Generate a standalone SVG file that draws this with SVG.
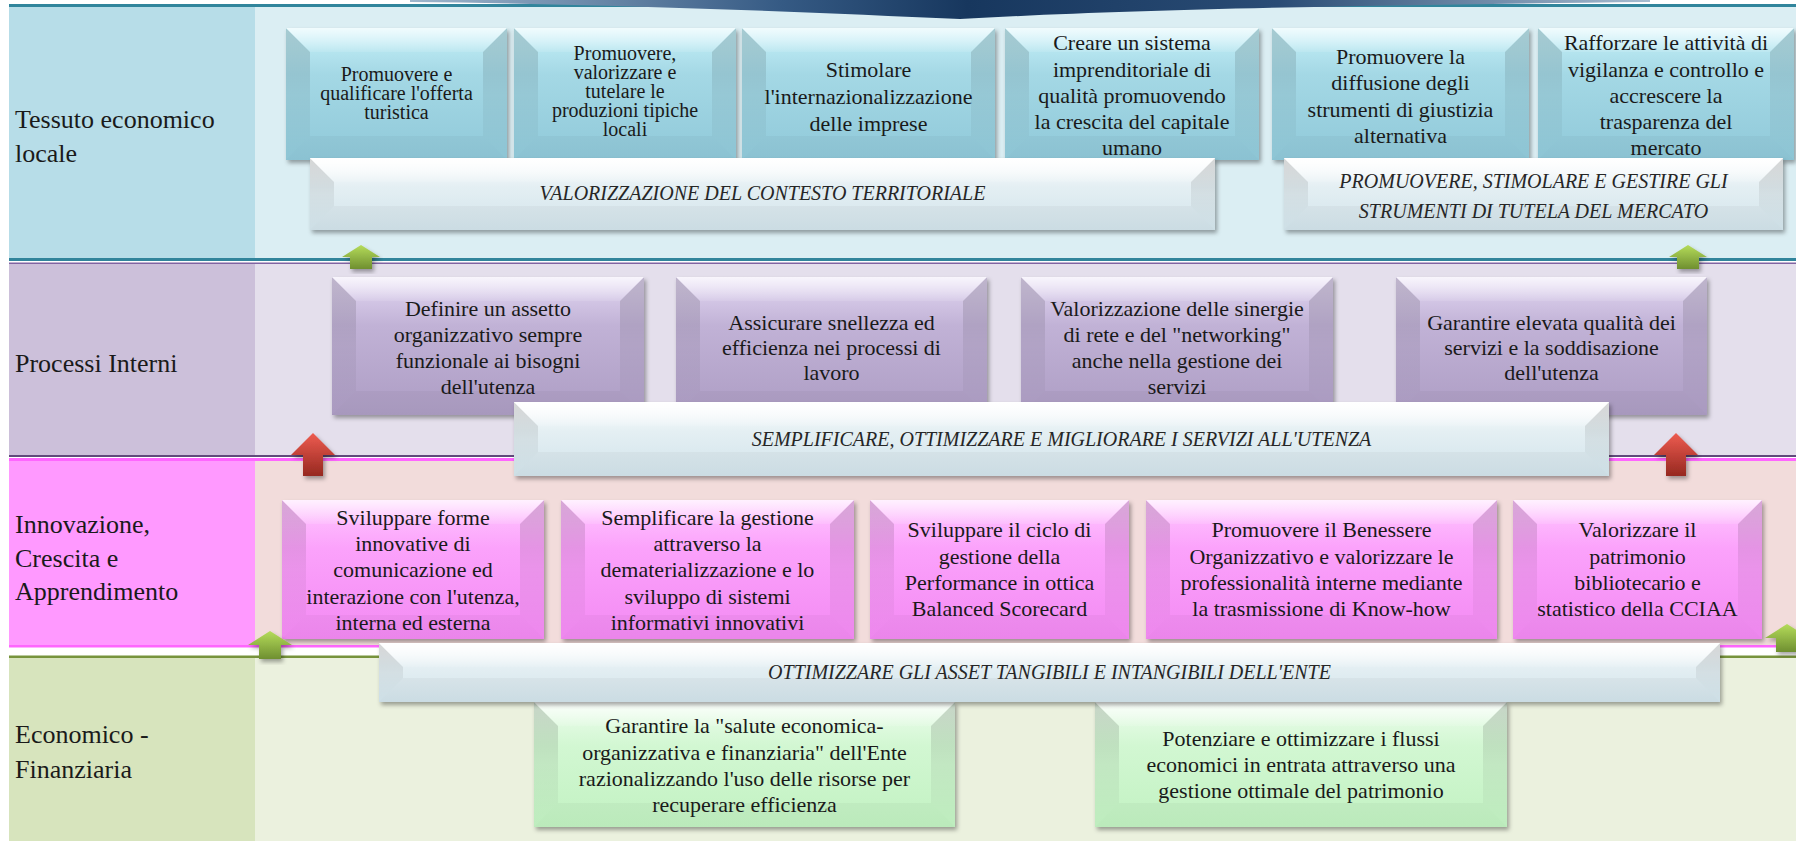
<svg xmlns="http://www.w3.org/2000/svg" width="1796" height="841" viewBox="0 0 1796 841">
<defs>
<linearGradient id="gTeal" x1="0" y1="0" x2="0" y2="1"><stop offset="0" stop-color="#c6f1f9"/><stop offset="0.35" stop-color="#a4d8e5"/><stop offset="1" stop-color="#90c9d9"/></linearGradient>
<linearGradient id="gBan" x1="0" y1="0" x2="0" y2="1"><stop offset="0" stop-color="#ffffff"/><stop offset="0.4" stop-color="#e4eff3"/><stop offset="1" stop-color="#d2e4eb"/></linearGradient>
<linearGradient id="gPur" x1="0" y1="0" x2="0" y2="1"><stop offset="0" stop-color="#e3d8f3"/><stop offset="0.35" stop-color="#c1b2d6"/><stop offset="1" stop-color="#ad9dc4"/></linearGradient>
<linearGradient id="gPink" x1="0" y1="0" x2="0" y2="1"><stop offset="0" stop-color="#ffc8ff"/><stop offset="0.35" stop-color="#fba2fb"/><stop offset="1" stop-color="#f38af3"/></linearGradient>
<linearGradient id="gGreen" x1="0" y1="0" x2="0" y2="1"><stop offset="0" stop-color="#eefdee"/><stop offset="0.35" stop-color="#d2f7d2"/><stop offset="1" stop-color="#c2f2c2"/></linearGradient>
<linearGradient id="gSide" x1="0" y1="0" x2="0" y2="1"><stop offset="0" stop-color="#000" stop-opacity="0.16"/><stop offset="0.5" stop-color="#000" stop-opacity="0.06"/><stop offset="1" stop-color="#000" stop-opacity="0.02"/></linearGradient>
<linearGradient id="gTop" x1="0" y1="0" x2="0" y2="1"><stop offset="0" stop-color="#fff" stop-opacity="0.75"/><stop offset="1" stop-color="#fff" stop-opacity="0.1"/></linearGradient>
<linearGradient id="gArrG" x1="0" y1="0" x2="0" y2="1"><stop offset="0" stop-color="#b5dc5a"/><stop offset="1" stop-color="#6f8f30"/></linearGradient>
<linearGradient id="gArrR" x1="0" y1="0" x2="0" y2="1"><stop offset="0" stop-color="#ee5c50"/><stop offset="1" stop-color="#962820"/></linearGradient>
<linearGradient id="gRib" x1="0" y1="0" x2="1" y2="0"><stop offset="0" stop-color="#9fb6cc"/><stop offset="0.3" stop-color="#355a84"/><stop offset="0.45" stop-color="#17375e"/><stop offset="0.7" stop-color="#2a4c75"/><stop offset="1" stop-color="#a7bcd0"/></linearGradient>
<filter id="sh" x="-5%" y="-10%" width="112%" height="130%"><feDropShadow dx="2" dy="3" stdDeviation="2.2" flood-color="#000" flood-opacity="0.35"/></filter>
</defs>
<style>
.lbl{font-family:"Liberation Serif","DejaVu Serif",serif;font-size:26px;fill:#1a1a1a}
.tx{font-family:"Liberation Serif","DejaVu Serif",serif;font-size:22px;fill:#1a1a1a;text-anchor:middle}
.tx2{font-family:"Liberation Serif","DejaVu Serif",serif;font-size:20px;fill:#1a1a1a;text-anchor:middle}
.bt{font-family:"Liberation Serif","DejaVu Serif",serif;font-size:20px;font-style:italic;fill:#262626;text-anchor:middle}
.teal{fill:url(#gTeal);filter:url(#sh)}
.ban{fill:url(#gBan);filter:url(#sh)}
.pur{fill:url(#gPur);filter:url(#sh)}
.pink{fill:url(#gPink);filter:url(#sh)}
.grn{fill:url(#gGreen);filter:url(#sh)}
.sd{fill:url(#gSide)}
.tp{fill:url(#gTop)}
.bm{fill:#000;fill-opacity:0.03}
.ag{fill:url(#gArrG);filter:url(#sh)}
.ar{fill:url(#gArrR);filter:url(#sh)}
</style>

<!-- backgrounds -->
<g id="rows">
<rect x="0" y="0" width="1796" height="841" fill="#ffffff"/>
<rect x="9" y="7" width="246" height="251" fill="#b7dde8"/>
<rect x="255" y="7" width="1541" height="251" fill="#dbeef3"/>
<rect x="9" y="264" width="246" height="191" fill="#ccc0da"/>
<rect x="255" y="264" width="1541" height="191" fill="#e4dfec"/>
<rect x="9" y="461" width="246" height="184" fill="#ff99ff"/>
<rect x="255" y="461" width="1541" height="184" fill="#f2dcdb"/>
<rect x="9" y="658" width="246" height="183" fill="#d7e4bd"/>
<rect x="255" y="658" width="1541" height="183" fill="#ebf1de"/>
<rect x="9" y="4" width="1787" height="3" fill="#31859c"/>
<rect x="9" y="258" width="1787" height="3" fill="#31849b"/>
<rect x="9" y="262.5" width="1787" height="1.5" fill="#8064a2"/>
<rect x="9" y="455" width="1787" height="2" fill="#604a7b"/>
<rect x="9" y="458" width="1787" height="3" fill="#ff66ff"/>
<rect x="9" y="645" width="1787" height="2.5" fill="#ff66ff"/>
<rect x="9" y="655.5" width="1787" height="2.5" fill="#77933c"/>
<path d="M410 0 L1650 0 L1650 2 C1350 5 1120 10 960 19 C800 12 620 4 410 2 Z" fill="url(#gRib)"/>
</g>

<g id="row-labels">
<text class="lbl" x="15" y="128">Tessuto economico</text>
<text class="lbl" x="15" y="162">locale</text>
<text class="lbl" x="15" y="372">Processi Interni</text>
<text class="lbl" x="15" y="533">Innovazione,</text>
<text class="lbl" x="15" y="567">Crescita e</text>
<text class="lbl" x="15" y="600">Apprendimento</text>
<text class="lbl" x="15" y="743">Economico -</text>
<text class="lbl" x="15" y="778">Finanziaria</text>
</g>

<!-- Row 1 boxes -->
<g id="t1"><rect class="teal" x="286" y="28" width="221" height="132"/>
<polygon class="sd" points="286,28 310,52 310,136 286,160"/><polygon class="sd" points="507,28 483,52 483,136 507,160"/>
<polygon class="tp" points="286,28 507,28 483,52 310,52"/><polygon class="bm" points="286,160 310,136 483,136 507,160"/>
<text class="tx2" x="396.5"><tspan x="396.5" y="81">Promuovere e</tspan><tspan x="396.5" y="100">qualificare l'offerta</tspan><tspan x="396.5" y="119">turistica</tspan></text></g>

<g id="t2"><rect class="teal" x="514" y="28" width="222" height="132"/>
<polygon class="sd" points="514,28 538,52 538,136 514,160"/><polygon class="sd" points="736,28 712,52 712,136 736,160"/>
<polygon class="tp" points="514,28 736,28 712,52 538,52"/><polygon class="bm" points="514,160 538,136 712,136 736,160"/>
<text class="tx2" x="625"><tspan x="625" y="60">Promuovere,</tspan><tspan x="625" y="79">valorizzare e</tspan><tspan x="625" y="98">tutelare le</tspan><tspan x="625" y="117">produzioni tipiche</tspan><tspan x="625" y="136">locali</tspan></text></g>

<g id="t3"><rect class="teal" x="742" y="28" width="253" height="132"/>
<polygon class="sd" points="742,28 766,52 766,136 742,160"/><polygon class="sd" points="995,28 971,52 971,136 995,160"/>
<polygon class="tp" points="742,28 995,28 971,52 766,52"/><polygon class="bm" points="742,160 766,136 971,136 995,160"/>
<text class="tx" x="868.5"><tspan x="868.5" y="77">Stimolare</tspan><tspan x="868.5" y="104">l'internazionalizzazione</tspan><tspan x="868.5" y="131">delle imprese</tspan></text></g>

<g id="t4"><rect class="teal" x="1005" y="28" width="254" height="132"/>
<polygon class="sd" points="1005,28 1029,52 1029,136 1005,160"/><polygon class="sd" points="1259,28 1235,52 1235,136 1259,160"/>
<polygon class="tp" points="1005,28 1259,28 1235,52 1029,52"/><polygon class="bm" points="1005,160 1029,136 1235,136 1259,160"/>
<text class="tx" x="1132"><tspan x="1132" y="50">Creare un sistema</tspan><tspan x="1132" y="77">imprenditoriale di</tspan><tspan x="1132" y="103">qualità promuovendo</tspan><tspan x="1132" y="129">la crescita del capitale</tspan><tspan x="1132" y="155">umano</tspan></text></g>

<g id="t5"><rect class="teal" x="1272" y="28" width="257" height="132"/>
<polygon class="sd" points="1272,28 1296,52 1296,136 1272,160"/><polygon class="sd" points="1529,28 1505,52 1505,136 1529,160"/>
<polygon class="tp" points="1272,28 1529,28 1505,52 1296,52"/><polygon class="bm" points="1272,160 1296,136 1505,136 1529,160"/>
<text class="tx" x="1400.5"><tspan x="1400.5" y="64">Promuovere la</tspan><tspan x="1400.5" y="90">diffusione degli</tspan><tspan x="1400.5" y="117">strumenti di giustizia</tspan><tspan x="1400.5" y="143">alternativa</tspan></text></g>

<g id="t6"><rect class="teal" x="1538" y="28" width="256" height="132"/>
<polygon class="sd" points="1538,28 1562,52 1562,136 1538,160"/><polygon class="sd" points="1794,28 1770,52 1770,136 1794,160"/>
<polygon class="tp" points="1538,28 1794,28 1770,52 1562,52"/><polygon class="bm" points="1538,160 1562,136 1770,136 1794,160"/>
<text class="tx" x="1666"><tspan x="1666" y="50">Rafforzare le attività di</tspan><tspan x="1666" y="77">vigilanza  e controllo  e</tspan><tspan x="1666" y="103">accrescere la</tspan><tspan x="1666" y="129">trasparenza del</tspan><tspan x="1666" y="155">mercato</tspan></text></g>

<g id="v1"><rect class="ban" x="310" y="158" width="905" height="72"/>
<polygon class="sd" points="310,158 334,182 334,206 310,230"/><polygon class="sd" points="1215,158 1191,182 1191,206 1215,230"/>
<polygon class="tp" points="310,158 1215,158 1191,182 334,182"/><polygon class="bm" points="310,230 334,206 1191,206 1215,230"/>
<text class="bt" x="762.5" y="200">VALORIZZAZIONE  DEL  CONTESTO TERRITORIALE</text></g>

<g id="v2"><rect class="ban" x="1284" y="158" width="499" height="72"/>
<polygon class="sd" points="1284,158 1308,182 1308,206 1284,230"/><polygon class="sd" points="1783,158 1759,182 1759,206 1783,230"/>
<polygon class="tp" points="1284,158 1783,158 1759,182 1308,182"/><polygon class="bm" points="1284,230 1308,206 1759,206 1783,230"/>
<text class="bt" x="1533.5"><tspan x="1533.5" y="188">PROMUOVERE, STIMOLARE E GESTIRE GLI</tspan><tspan x="1533.5" y="218">STRUMENTI DI TUTELA DEL MERCATO</tspan></text></g>

<!-- Row 2 boxes -->
<g id="p1"><rect class="pur" x="332" y="277" width="312" height="138"/>
<polygon class="sd" points="332,277 356,301 356,391 332,415"/><polygon class="sd" points="644,277 620,301 620,391 644,415"/>
<polygon class="tp" points="332,277 644,277 620,301 356,301"/><polygon class="bm" points="332,415 356,391 620,391 644,415"/>
<text class="tx" x="488"><tspan x="488" y="316">Definire un assetto</tspan><tspan x="488" y="342">organizzativo sempre</tspan><tspan x="488" y="368">funzionale ai bisogni</tspan><tspan x="488" y="394">dell'utenza</tspan></text></g>

<g id="p2"><rect class="pur" x="676" y="277" width="311" height="138"/>
<polygon class="sd" points="676,277 700,301 700,391 676,415"/><polygon class="sd" points="987,277 963,301 963,391 987,415"/>
<polygon class="tp" points="676,277 987,277 963,301 700,301"/><polygon class="bm" points="676,415 700,391 963,391 987,415"/>
<text class="tx" x="831.5"><tspan x="831.5" y="330">Assicurare snellezza ed</tspan><tspan x="831.5" y="355">efficienza nei processi di</tspan><tspan x="831.5" y="380">lavoro</tspan></text></g>

<g id="p3"><rect class="pur" x="1021" y="277" width="312" height="138"/>
<polygon class="sd" points="1021,277 1045,301 1045,391 1021,415"/><polygon class="sd" points="1333,277 1309,301 1309,391 1333,415"/>
<polygon class="tp" points="1021,277 1333,277 1309,301 1045,301"/><polygon class="bm" points="1021,415 1045,391 1309,391 1333,415"/>
<text class="tx" x="1177"><tspan x="1177" y="316">Valorizzazione delle sinergie</tspan><tspan x="1177" y="342">di rete  e del "networking"</tspan><tspan x="1177" y="368">anche nella gestione dei</tspan><tspan x="1177" y="394">servizi</tspan></text></g>

<g id="p4"><rect class="pur" x="1396" y="277" width="311" height="138"/>
<polygon class="sd" points="1396,277 1420,301 1420,391 1396,415"/><polygon class="sd" points="1707,277 1683,301 1683,391 1707,415"/>
<polygon class="tp" points="1396,277 1707,277 1683,301 1420,301"/><polygon class="bm" points="1396,415 1420,391 1683,391 1707,415"/>
<text class="tx" x="1551.5"><tspan x="1551.5" y="330">Garantire elevata qualità dei</tspan><tspan x="1551.5" y="355">servizi e la soddisazione</tspan><tspan x="1551.5" y="380">dell'utenza</tspan></text></g>

<g id="s1"><rect class="ban" x="514" y="402" width="1095" height="74"/>
<polygon class="sd" points="514,402 538,426 538,452 514,476"/><polygon class="sd" points="1609,402 1585,426 1585,452 1609,476"/>
<polygon class="tp" points="514,402 1609,402 1585,426 538,426"/><polygon class="bm" points="514,476 538,452 1585,452 1609,476"/>
<text class="bt" x="1061.5" y="446">SEMPLIFICARE, OTTIMIZZARE E MIGLIORARE I SERVIZI ALL'UTENZA</text></g>

<!-- Row 3 boxes -->
<g id="i1"><rect class="pink" x="282" y="500" width="262" height="139"/>
<polygon class="sd" points="282,500 306,524 306,615 282,639"/><polygon class="sd" points="544,500 520,524 520,615 544,639"/>
<polygon class="tp" points="282,500 544,500 520,524 306,524"/><polygon class="bm" points="282,639 306,615 520,615 544,639"/>
<text class="tx" x="413"><tspan x="413" y="525">Sviluppare forme</tspan><tspan x="413" y="551">innovative di</tspan><tspan x="413" y="577">comunicazione ed</tspan><tspan x="413" y="604">interazione con l'utenza,</tspan><tspan x="413" y="630">interna ed esterna</tspan></text></g>

<g id="i2"><rect class="pink" x="561" y="500" width="293" height="139"/>
<polygon class="sd" points="561,500 585,524 585,615 561,639"/><polygon class="sd" points="854,500 830,524 830,615 854,639"/>
<polygon class="tp" points="561,500 854,500 830,524 585,524"/><polygon class="bm" points="561,639 585,615 830,615 854,639"/>
<text class="tx" x="707.5"><tspan x="707.5" y="525">Semplificare la gestione</tspan><tspan x="707.5" y="551">attraverso la</tspan><tspan x="707.5" y="577">dematerializzazione e lo</tspan><tspan x="707.5" y="604">sviluppo di sistemi</tspan><tspan x="707.5" y="630">informativi innovativi</tspan></text></g>

<g id="i3"><rect class="pink" x="870" y="500" width="259" height="139"/>
<polygon class="sd" points="870,500 894,524 894,615 870,639"/><polygon class="sd" points="1129,500 1105,524 1105,615 1129,639"/>
<polygon class="tp" points="870,500 1129,500 1105,524 894,524"/><polygon class="bm" points="870,639 894,615 1105,615 1129,639"/>
<text class="tx" x="999.5"><tspan x="999.5" y="537">Sviluppare il ciclo di</tspan><tspan x="999.5" y="564">gestione della</tspan><tspan x="999.5" y="590">Performance in ottica</tspan><tspan x="999.5" y="616">Balanced Scorecard</tspan></text></g>

<g id="i4"><rect class="pink" x="1146" y="500" width="351" height="139"/>
<polygon class="sd" points="1146,500 1170,524 1170,615 1146,639"/><polygon class="sd" points="1497,500 1473,524 1473,615 1497,639"/>
<polygon class="tp" points="1146,500 1497,500 1473,524 1170,524"/><polygon class="bm" points="1146,639 1170,615 1473,615 1497,639"/>
<text class="tx" x="1321.5"><tspan x="1321.5" y="537">Promuovere il Benessere</tspan><tspan x="1321.5" y="564">Organizzativo e valorizzare le</tspan><tspan x="1321.5" y="590">professionalità interne mediante</tspan><tspan x="1321.5" y="616">la trasmissione di Know-how</tspan></text></g>

<g id="i5"><rect class="pink" x="1513" y="500" width="249" height="139"/>
<polygon class="sd" points="1513,500 1537,524 1537,615 1513,639"/><polygon class="sd" points="1762,500 1738,524 1738,615 1762,639"/>
<polygon class="tp" points="1513,500 1762,500 1738,524 1537,524"/><polygon class="bm" points="1513,639 1537,615 1738,615 1762,639"/>
<text class="tx" x="1637.5"><tspan x="1637.5" y="537">Valorizzare il</tspan><tspan x="1637.5" y="564">patrimonio</tspan><tspan x="1637.5" y="590">bibliotecario e</tspan><tspan x="1637.5" y="616">statistico  della CCIAA</tspan></text></g>

<!-- Row 4 boxes -->
<g id="g1"><rect class="grn" x="534" y="702" width="421" height="125"/>
<polygon class="sd" points="534,702 558,726 558,803 534,827"/><polygon class="sd" points="955,702 931,726 931,803 955,827"/>
<polygon class="tp" points="534,702 955,702 931,726 558,726"/><polygon class="bm" points="534,827 558,803 931,803 955,827"/>
<text class="tx" x="744.5"><tspan x="744.5" y="733">Garantire la "salute economica-</tspan><tspan x="744.5" y="760">organizzativa e finanziaria" dell'Ente</tspan><tspan x="744.5" y="786">razionalizzando l'uso delle risorse per</tspan><tspan x="744.5" y="812">recuperare efficienza</tspan></text></g>

<g id="g2"><rect class="grn" x="1095" y="702" width="412" height="125"/>
<polygon class="sd" points="1095,702 1119,726 1119,803 1095,827"/><polygon class="sd" points="1507,702 1483,726 1483,803 1507,827"/>
<polygon class="tp" points="1095,702 1507,702 1483,726 1119,726"/><polygon class="bm" points="1095,827 1119,803 1483,803 1507,827"/>
<text class="tx" x="1301"><tspan x="1301" y="746">Potenziare e ottimizzare i flussi</tspan><tspan x="1301" y="772">economici in entrata attraverso una</tspan><tspan x="1301" y="798">gestione ottimale  del patrimonio</tspan></text></g>

<g id="o1"><rect class="ban" x="379" y="643" width="1341" height="59"/>
<polygon class="sd" points="379,643 403,667 403,678 379,702"/><polygon class="sd" points="1720,643 1696,667 1696,678 1720,702"/>
<polygon class="tp" points="379,643 1720,643 1696,667 403,667"/><polygon class="bm" points="379,702 403,678 1696,678 1720,702"/>
<text class="bt" x="1049.5" y="679">OTTIMIZZARE  GLI ASSET TANGIBILI E INTANGIBILI DELL'ENTE</text></g>

<!-- connectors: arrows -->
<g id="connectors">
<path class="ag" d="M361 245 L380 257 L372 257 L372 269 L350 269 L350 257 L342 257 Z"/>
<path class="ag" d="M1688 245 L1707 257 L1699 257 L1699 269 L1677 269 L1677 257 L1669 257 Z"/>
<path class="ar" d="M313 433 L335 455 L323 455 L323 476 L303 476 L303 455 L291 455 Z"/>
<path class="ar" d="M1676 433 L1698 455 L1686 455 L1686 476 L1666 476 L1666 455 L1654 455 Z"/>
<path class="ag" d="M270 631 L292 645 L281 645 L281 659 L259 659 L259 645 L248 645 Z"/>
<path class="ag" d="M1787 624 L1809 638 L1798 638 L1798 652 L1776 652 L1776 638 L1765 638 Z"/>
</g>
</svg>
